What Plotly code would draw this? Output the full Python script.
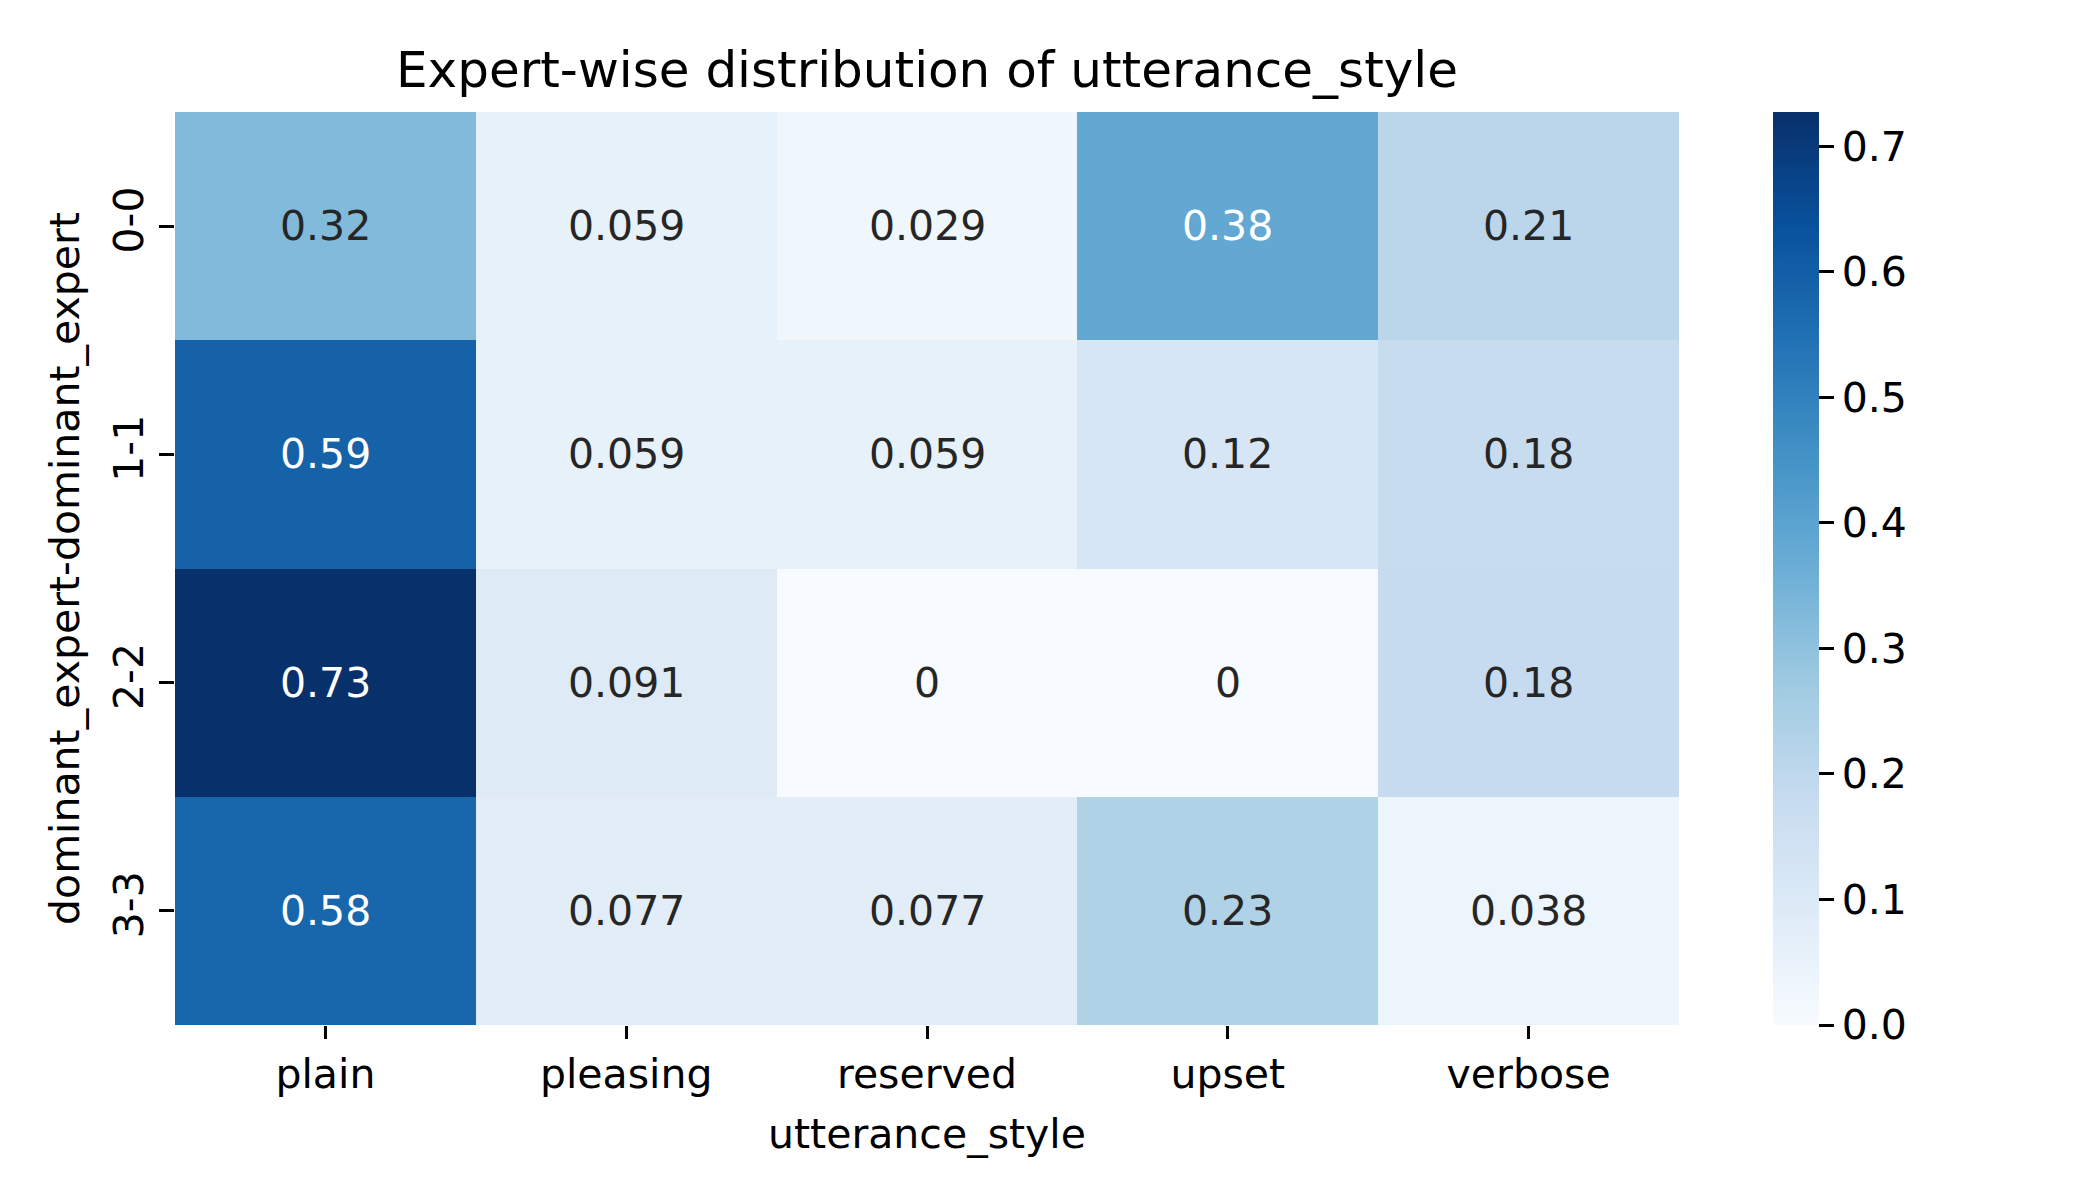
import plotly.graph_objects as go

styles = ["plain", "pleasing", "reserved", "upset", "verbose"]
experts = ["0-0", "1-1", "2-2", "3-3"]
row_0_0 = [0.3235, 0.0588, 0.0294, 0.3824, 0.2059]
row_1_1 = [0.5882, 0.0588, 0.0588, 0.1176, 0.1765]
row_2_2 = [0.7273, 0.0909, 0.0, 0.0, 0.1818]
row_3_3 = [0.5769, 0.0769, 0.0769, 0.2308, 0.0385]
z = [row_0_0, row_1_1, row_2_2, row_3_3]

blues = ["#f7fbff", "#deebf7", "#c6dbef", "#9ecae1", "#6baed6",
         "#4292c6", "#2171b5", "#08519c", "#08306b"]
colorscale = [[i / (len(blues) - 1), c] for i, c in enumerate(blues)]

zmin = 0.0
zmax = max(max(r) for r in z)


def hex2rgb(h):
    h = h.lstrip("#")
    return [int(h[i:i + 2], 16) / 255 for i in (0, 2, 4)]


def color_at(t):
    t = min(max(t, 0), 1)
    n = len(blues) - 1
    i = min(int(t * n), n - 1)
    f = t * n - i
    a, b = hex2rgb(blues[i]), hex2rgb(blues[i + 1])
    return [a[k] + (b[k] - a[k]) * f for k in range(3)]


def luminance(rgb):
    def lin(c):
        return c / 12.92 if c <= 0.03928 else ((c + 0.055) / 1.055) ** 2.4
    r, g, b = [lin(c) for c in rgb]
    return 0.2126 * r + 0.7152 * g + 0.0722 * b


FONT = "DejaVu Sans"

fig = go.Figure(go.Heatmap(
    z=z, x=styles, y=experts,
    colorscale=colorscale, zmin=zmin, zmax=zmax,
    xgap=0, ygap=0,
    hoverinfo="skip",
    colorbar=dict(
        thickness=46, thicknessmode="pixels",
        len=1, lenmode="fraction", y=0.5, yanchor="middle",
        x=1.0625, xanchor="left", xpad=0, ypad=0,
        outlinewidth=0,
        tickmode="array",
        tickvals=[0, 0.1, 0.2, 0.3, 0.4, 0.5, 0.6, 0.7],
        ticktext=["0.0", "0.1", "0.2", "0.3", "0.4", "0.5", "0.6", "0.7"],
        ticks="outside", ticklen=15, tickwidth=2.5, tickcolor="black",
        tickfont=dict(family=FONT, size=41, color="black"),
    ),
))

annotations = []
for yi, ey in enumerate(experts):
    for xi, sx in enumerate(styles):
        v = z[yi][xi]
        lum = luminance(color_at((v - zmin) / (zmax - zmin)))
        col = "#262626" if lum > 0.408 else "white"
        annotations.append(dict(
            x=sx, y=ey, xref="x", yref="y",
            text=f"{v:.2g}", showarrow=False,
            font=dict(family=FONT, size=41, color=col),
        ))

fig.update_layout(
    width=2100, height=1200,
    margin=dict(l=167, r=429, t=104, b=183),
    paper_bgcolor="white", plot_bgcolor="white",
    font=dict(family=FONT, color="black"),
    title=dict(
        text="Expert-wise distribution of utterance_style",
        x=(167 + 1671) / 2 / 2100, xanchor="center",
        y=1 - 61 / 1200, yanchor="middle",
        font=dict(family=FONT, size=50, color="black"),
    ),
    annotations=annotations,
    xaxis=dict(
        title=dict(text="utterance_style", font=dict(family=FONT, size=41), standoff=22),
        ticks="outside", ticklen=13, tickwidth=2.5, tickcolor="black",
        tickfont=dict(family=FONT, size=41, color="black"),
        showgrid=False, zeroline=False, showline=False,
    ),
    yaxis=dict(
        title=dict(text="dominant_expert-dominant_expert", font=dict(family=FONT, size=41), standoff=12),
        autorange="reversed",
        ticks="outside", ticklen=15, tickwidth=2.5, tickcolor="black",
        tickangle=-90,
        tickfont=dict(family=FONT, size=41, color="black"),
        showgrid=False, zeroline=False, showline=False,
    ),
)

fig.write_html("out.html")
